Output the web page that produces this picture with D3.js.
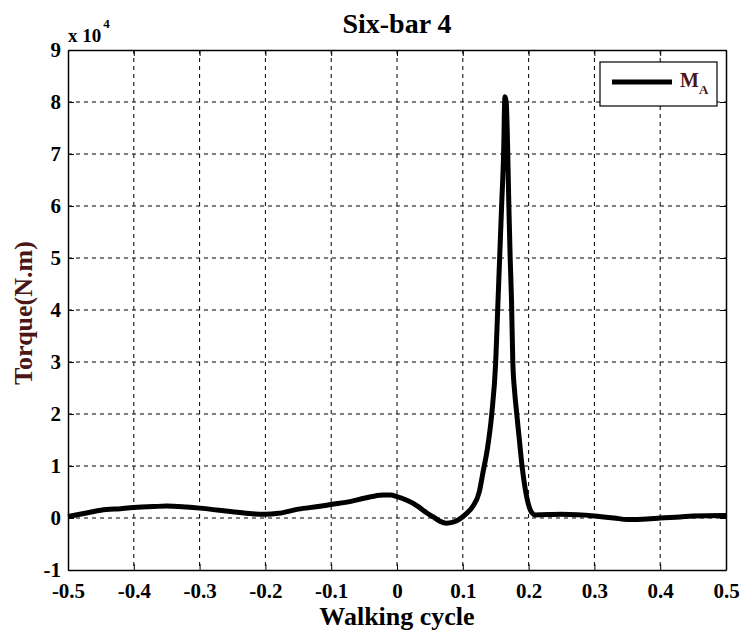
<!DOCTYPE html>
<html>
<head>
<meta charset="utf-8">
<script src="https://cdn.jsdelivr.net/npm/d3@7"></script>
<style>
  body { margin: 0; background: #fff; }
  text { font-family: "Liberation Serif", "Times New Roman", serif; font-weight: bold; }
</style>
</head>
<body>
<svg id="svg" width="740" height="632"></svg>
<script>
// walking cycle values and torque (x 10^4 N.m)
const cycle = [-0.5, -0.47, -0.45, -0.42, -0.4, -0.37, -0.35, -0.32, -0.3, -0.27, -0.25, -0.22, -0.2, -0.18,
  -0.15, -0.12, -0.1, -0.07, -0.05, -0.035, -0.02, -0.01, 0, 0.015, 0.03, 0.045, 0.055, 0.065, 0.075,
  0.085, 0.095, 0.105, 0.115, 0.125, 0.131, 0.137, 0.144, 0.15, 0.153, 0.156, 0.159, 0.162, 0.164,
  0.166, 0.168, 0.17, 0.172, 0.174, 0.176, 0.179, 0.182, 0.186, 0.19, 0.195, 0.2, 0.205, 0.21,
  0.25, 0.3, 0.33, 0.35, 0.38, 0.4, 0.43, 0.45, 0.5]
const torque = [0.03, 0.1, 0.15, 0.18, 0.2, 0.22, 0.23, 0.21, 0.19, 0.15, 0.12, 0.08, 0.07, 0.09,
  0.17, 0.22, 0.26, 0.32, 0.38, 0.42, 0.44, 0.44, 0.41, 0.34, 0.24, 0.1, 0.02, -0.06, -0.1,
  -0.08, -0.02, 0.08, 0.22, 0.5, 0.9, 1.3, 2.0, 3.0, 4.0, 5.0, 6.0, 7.0, 8.1,
  8.0, 7.2, 6.0, 5.0, 4.2, 3.0, 2.4, 2.0, 1.5, 1.0, 0.55, 0.25, 0.1, 0.06,
  0.07, 0.04, 0.0, -0.03, -0.02, 0.0, 0.02, 0.04, 0.05]

const xTicks = [-0.5, -0.4, -0.3, -0.2, -0.1, 0, 0.1, 0.2, 0.3, 0.4, 0.5]
const yTicks = [-1, 0, 1, 2, 3, 4, 5, 6, 7, 8, 9]

const svg = d3.select("#svg")
const pLeft = 68, pRight = 726, pTop = 50, pBottom = 570

const xScale = d3.scaleLinear().domain([-0.5, 0.5]).range([pLeft, pRight])
const yScale = d3.scaleLinear().domain([-1, 9]).range([pBottom, pTop])

// dashed grid
svg.append("g").selectAll("line").data(xTicks.slice(1, -1)).enter().append("line")
  .attr("x1", d => xScale(d)).attr("x2", d => xScale(d))
  .attr("y1", pTop).attr("y2", pBottom)
  .attr("stroke", "#000").attr("stroke-width", 1).attr("stroke-dasharray", "4,4")
svg.append("g").selectAll("line").data(yTicks.slice(1, -1)).enter().append("line")
  .attr("x1", pLeft).attr("x2", pRight)
  .attr("y1", d => yScale(d)).attr("y2", d => yScale(d))
  .attr("stroke", "#000").attr("stroke-width", 1).attr("stroke-dasharray", "4,4")

// axes with inward ticks
const fmt = d => d === 0 ? "0" : d3.format(".1f")(d).replace("\u2212", "-")
svg.append("g").attr("transform", `translate(0,${pBottom})`)
  .call(d3.axisBottom(xScale).tickValues(xTicks).tickSizeInner(-6).tickSizeOuter(0).tickPadding(13)
    .tickFormat(fmt))
svg.append("g").attr("transform", `translate(0,${pTop})`)
  .call(d3.axisTop(xScale).tickValues(xTicks).tickSizeInner(-6).tickSizeOuter(0).tickFormat(""))
svg.append("g").attr("transform", `translate(${pLeft},0)`)
  .call(d3.axisLeft(yScale).tickValues(yTicks).tickSizeInner(-6).tickSizeOuter(0).tickPadding(7)
    .tickFormat(d => String(d)))
svg.append("g").attr("transform", `translate(${pRight},0)`)
  .call(d3.axisRight(yScale).tickValues(yTicks).tickSizeInner(-6).tickSizeOuter(0).tickFormat(""))

svg.selectAll(".domain").attr("stroke", "#000").attr("stroke-width", 1.5)
svg.selectAll(".tick line").attr("stroke", "#000")
svg.selectAll(".tick text").attr("font-size", 21).attr("fill", "#000")
  .style("font-family", "'Liberation Serif', serif").style("font-weight", "bold")

// curve
svg.append("path").datum(cycle.map((c, i) => [c, torque[i]]))
  .attr("fill", "none").attr("stroke", "#000").attr("stroke-width", 5)
  .attr("stroke-linejoin", "round")
  .attr("d", d3.line().x(d => xScale(d[0])).y(d => yScale(d[1])).curve(d3.curveMonotoneX))

// multiplier
const mult = svg.append("text").attr("x", 68).attr("y", 42).attr("font-size", 19).attr("fill", "#000")
mult.append("tspan").text("x 10")
mult.append("tspan").attr("dx", 2).attr("dy", -14).attr("font-size", 13).text("4")

// title and labels
svg.append("text").attr("x", (pLeft + pRight) / 2).attr("y", 33).attr("text-anchor", "middle")
  .attr("font-size", 28).attr("fill", "#000").text("Six-bar 4")
svg.append("text").attr("x", (pLeft + pRight) / 2).attr("y", 625).attr("text-anchor", "middle")
  .attr("font-size", 26).attr("fill", "#000").text("Walking cycle")
svg.append("text").attr("transform", `translate(32,313) rotate(-90)`)
  .attr("text-anchor", "middle").attr("font-size", 26).attr("fill", "#4a1616").text("Torque(N.m)")

// legend
const lg = svg.append("g")
lg.append("rect").attr("x", 600).attr("y", 62).attr("width", 117).attr("height", 44)
  .attr("fill", "#fff").attr("stroke", "#000").attr("stroke-width", 1.2)
lg.append("line").attr("x1", 612).attr("x2", 672).attr("y1", 82).attr("y2", 82)
  .attr("stroke", "#000").attr("stroke-width", 5)
const lt = lg.append("text").attr("x", 680).attr("y", 87).attr("font-size", 20).attr("fill", "#4a1616")
lt.append("tspan").text("M")
lt.append("tspan").attr("dy", 7).attr("font-size", 13).text("A")
</script>
</body>
</html>
